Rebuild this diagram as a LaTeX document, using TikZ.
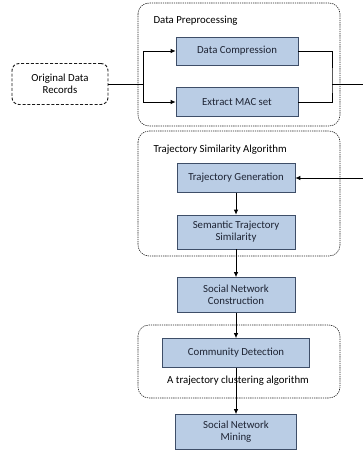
\documentclass[tikz,border=0pt]{standalone}
\usepackage{fontspec}
\setmainfont{Carlito}
\usetikzlibrary{arrows.meta,positioning}

\begin{document}
\begin{tikzpicture}[
        x=1pt, y=-1pt,
    font=\fontsize{10.8}{12.2}\selectfont,
    stage/.style={draw=boxline, fill=boxfill, text=ink, line width=0.7pt,
        minimum width=118pt, minimum height=29pt, align=center, inner sep=2pt},
    group/.style={draw=black!85, line width=0.6pt,
        dash pattern=on 1.3pt off 0.9pt, rounded corners=11pt},
    source/.style={draw=black!90, line width=0.9pt, dash pattern=on 3pt off 1.8pt,
        rounded corners=7pt, minimum width=96pt, minimum height=41pt, align=center},
    wire/.style={line width=0.75pt},
    flow/.style={wire, -{Latex[length=5pt,width=4.5pt]}}
]
    \definecolor{boxfill}{RGB}{186,205,229}
    \definecolor{boxline}{RGB}{62,78,104}
    \definecolor{ink}{RGB}{30,36,52}

    \useasboundingbox (0,0) rectangle (363,454);

    % grouping frames
    \draw [group] (138,3) rectangle (340,126);
    \draw [group] (138,131) rectangle (340,256);
    \draw [group] (138,325) rectangle (340,398);

    \node [anchor=west] (dplabel) at (150,21) {Data Preprocessing};
    \node [anchor=west] (tslabel) at (150,150) {Trajectory Similarity Algorithm};
    \node (cdlabel) at (238,381) {A trajectory clustering algorithm};

    \node [source] (orig) at (60,84) {Original Data\\Records};

    \node [stage, minimum width=122pt, minimum height=28pt] (dc) at (237,51) {Data Compression};
    \node [stage, minimum width=122pt, minimum height=29pt] (em) at (237,102) {Extract MAC set};
    \node [stage] (tg) at (236,178) {Trajectory Generation};
    \node [stage, minimum height=34pt] (sts) at (236,232) {Semantic Trajectory\\Similarity};
    \node [stage, minimum height=35pt] (snc) at (236,295) {Social Network\\Construction};
    \node [stage, minimum width=147pt] (cd) at (236,353) {Community Detection};
    \node [stage, minimum width=121pt, minimum height=35pt] (snm) at (236,432) {Social Network\\Mining};

    \coordinate (split) at (143,84);
    \coordinate (merge) at (332,84);
    \coordinate (out) at (363,84);
    \coordinate (in) at (363,178);

    \draw [wire] (orig.east) -- (split);
    \draw [flow] (split) |- (dc.west);
    \draw [flow] (split) |- (em.west);
    \draw [wire] (dc.east) -| (merge) |- (em.east);
    \draw [wire] (merge) -- (out);

    \draw [flow] (in) -- (tg.east);
    \draw [flow] (tg) -- (sts);
    \draw [flow] (sts) -- (snc);
    \draw [flow] (snc) -- (cd);
    \draw [flow] (cd) -- (snm);
\end{tikzpicture}
\end{document}
